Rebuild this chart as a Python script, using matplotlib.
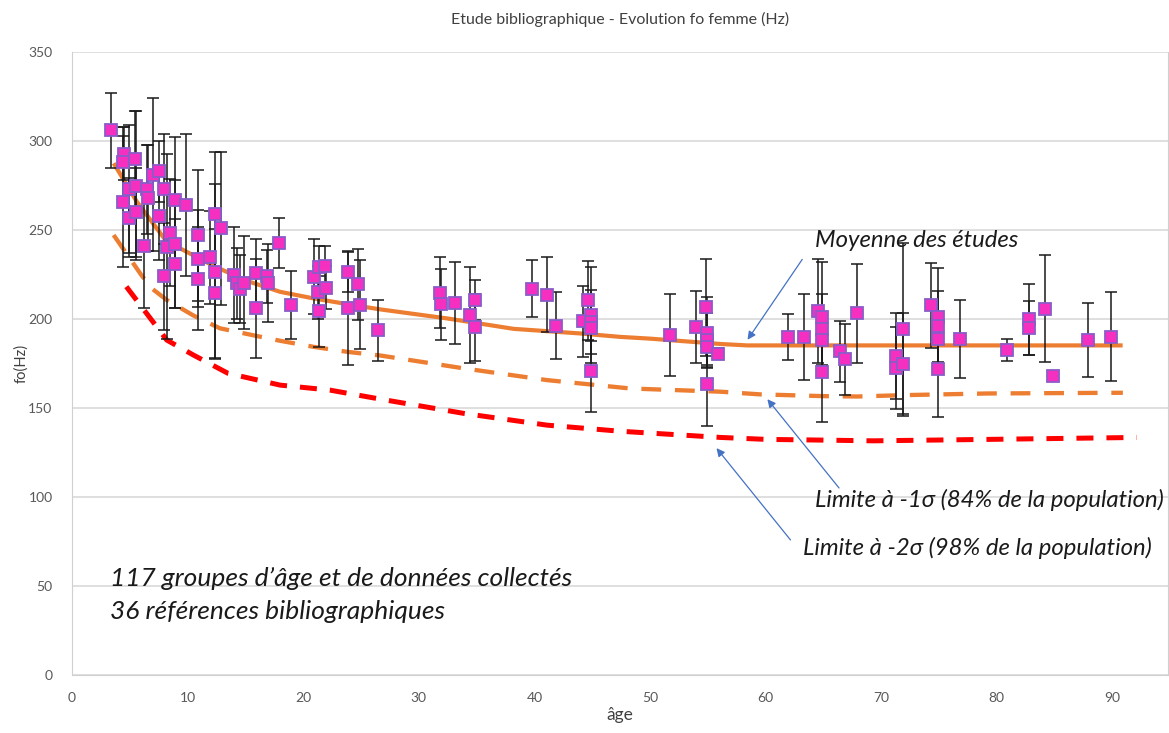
import numpy as np
import matplotlib
matplotlib.use('Agg')
from matplotlib import pyplot as plt

plt.rcParams['font.family'] = ['Lato', 'DejaVu Sans']

# groupes d'age : age moyen, fo moyen (Hz), ecart-type (Hz)
ages = [3.4, 4.5, 4.4, 5.45, 4.9, 5.5, 4.45, 4.9, 5.5, 6.5, 6.55, 7.0, 7.5, 8.0, 7.5,
        6.2, 8.5, 8.25, 8.95, 8.95, 9.9, 8.95, 8.0, 10.9, 10.9, 10.9, 12.4, 12.9, 11.9,
        12.4, 12.4, 14.0, 14.25, 14.5, 14.9, 15.9, 15.9, 16.85, 16.95, 17.9, 18.95,
        20.9, 21.4, 21.9, 21.3, 21.95, 21.4, 23.9, 23.9, 24.7, 24.9, 26.45,
        31.85, 31.9, 33.1, 34.4, 34.9, 34.9, 39.8, 41.1, 41.9, 44.6, 44.2, 44.9, 44.9,
        44.9, 44.9, 51.75, 54.0, 54.8, 54.9, 54.9, 54.9, 54.9, 55.9,
        61.9, 63.3, 64.5, 64.9, 64.9, 64.9, 64.9, 66.4, 66.9, 67.9, 71.3, 71.3, 71.9,
        71.9, 74.3, 74.9, 74.9, 74.9, 74.9, 76.8, 80.9, 82.8, 82.8, 84.2, 84.9, 87.9, 89.9]
fo = [306, 293, 288, 290, 273, 275, 266, 257, 260, 273, 268, 281, 283, 273, 258,
      241, 248.5, 240.6, 242, 267, 264, 231, 224, 247, 234, 222.6, 259, 251, 234.6,
      226.6, 214.4, 224.7, 220, 217, 220.5, 225.7, 206, 224, 220.4, 242.7, 208,
      223.8, 229, 229.8, 215, 217.6, 204.3, 226.4, 206, 219.5, 208, 193.6,
      214.8, 208.2, 208.8, 202.4, 210.7, 195.3, 216.9, 213.7, 196.3, 210.5, 198.7, 202.2,
      198.5, 194.8, 170.6, 191.2, 195.5, 206.5, 192.3, 188.2, 184.4, 163.7, 180.5,
      190, 190, 204.5, 201, 194.2, 188.2, 170, 181.8, 177.5, 203.2, 179.2, 172.6, 194.6,
      174.6, 207.7, 200.9, 196, 188.8, 171.9, 188.8, 182.6, 199.8, 195, 205.8, 168.1, 188.2, 190]
sd = [21, 15, 20, 27, 36, 42, 37, 22, 25, 25, 30, 43, 17, 31, 25,
      35, 30, 52, 36, 35, 40, 25, 30, 37, 27, 29, 35, 43, 26,
      49, 36, 27, 20, 19, 26, 19, 28, 15, 22, 14, 19,
      21, 12, 11, 15, 12, 20, 11, 32, 20, 25, 17,
      20, 20, 23, 27, 11, 19, 16, 21, 19, 22, 20, 27,
      18, 7, 23, 23, 20, 27, 20, 15, 10, 24, 3,
      13, 24, 29, 31, 20, 15, 28, 17, 20, 28, 24, 23, 48,
      29, 24, 28, 20, 15, 27, 22, 6, 20, 15, 30, 0, 21, 25]

# courbes de synthese
moy_age = [3.7, 5.6, 8.3, 9.35, 12.2, 15.1, 18, 20.9, 23.8, 26.7, 32.4, 38.2, 44, 47.4,
           50, 56.1, 58.4, 90.7]
moy_fo = [286.5, 266, 242.5, 239.7, 230, 221.5, 215.3, 211.6, 208.4, 205.4, 200.4, 194.5,
          191.9, 190, 189, 186, 185.2, 185.2]
s1_age = [3.6, 6.0, 6.9, 8.2, 10.5, 12.8, 15.6, 18, 20.9, 23.8, 26.7, 33.9, 41.1, 48.3,
          56.1, 59.5, 65, 67.9, 72.2, 79.2, 90.9]
s1_fo = [247.2, 224.7, 217.2, 210.7, 202, 194.8, 191, 187.8, 184.4, 181.6, 179.5, 172.3,
         165.7, 161, 159.2, 157.7, 156.7, 156.5, 157.3, 158.2, 158.6]
s2_age = [4.7, 8.2, 10.5, 13.5, 18, 22.3, 26.7, 33.9, 41.1, 47.4, 56.1, 60.1, 65, 69.3,
          79.2, 92.1]
s2_fo = [218.2, 188.2, 179.8, 169.5, 162.9, 160.1, 155, 147, 140.4, 137, 133.5, 132.4,
         132, 131.6, 132.4, 133.5]

fig = plt.figure(figsize=(11.69, 7.33), dpi=100)
ax = fig.add_axes([0.0616, 0.079, 0.9375, 0.850])

ax.plot(s2_age, s2_fo, color='#FF0000', lw=3.6, dashes=(3.4, 2.6), zorder=2)
ax.plot(s1_age, s1_fo, color='#ED7D31', lw=3.1, dashes=(4.6, 3.2), zorder=2)
ax.plot(moy_age, moy_fo, color='#ED7D31', lw=3.0, zorder=2)

ax.errorbar(ages, fo, yerr=sd, fmt='none', ecolor='#1a1a1a', elinewidth=1.1,
            capsize=4, capthick=1.1, zorder=3)
ax.plot(ages, fo, ls='none', marker='s', ms=8.5, mfc='#F52FBF', mec='#8A5CC8',
        mew=1.3, zorder=4)

ax.set_xlim(0, 94.8)
ax.set_ylim(0, 350)
ax.set_xticks(np.arange(0, 91, 10))
ax.set_yticks(np.arange(0, 351, 50))
ax.tick_params(length=0, labelsize=10, colors='#595959', pad=12)
ax.tick_params(axis='y', pad=14)
ax.grid(axis='y', color='#D9D9D9', lw=1.2)
ax.set_axisbelow(True)
for s in ax.spines.values():
    s.set_color('#D0D0D0')
ax.spines['top'].set_visible(False)

ax.set_title('Etude bibliographique - Evolution fo femme (Hz)', fontsize=11.5,
             color='#404040', pad=20)
ax.set_xlabel('âge', fontsize=12.5, color='#404040', labelpad=2)
ax.set_ylabel('fo(Hz)', fontsize=10.5, color='#404040', labelpad=0)

arr = dict(arrowstyle='-|>', color='#4472C4', lw=0.9, mutation_scale=12)
ax.annotate('', xy=(58.3, 187.1), xytext=(63.3, 234.8), arrowprops=arr)
ax.annotate('', xy=(60.0, 156.2), xytext=(66.5, 103.9), arrowprops=arr)
ax.annotate('', xy=(55.6, 128.7), xytext=(62.3, 74.7), arrowprops=arr)

lab = dict(fontsize=17.2, style='italic', color='#1a1a1a', va='center', ha='left')
ax.text(64.3, 244.4, 'Moyenne des études', **lab)
ax.text(64.3, 98.3, 'Limite à -1σ (84% de la population)', **lab)
ax.text(63.2, 71.3, 'Limite à -2σ (98% de la population)', **lab)
note = dict(lab, fontsize=19)
ax.text(3.3, 54.5, "117 groupes d’âge et de données collectés", **note)
ax.text(3.3, 36, '36 références bibliographiques', **note)

fig.savefig('out.png', dpi=100)
